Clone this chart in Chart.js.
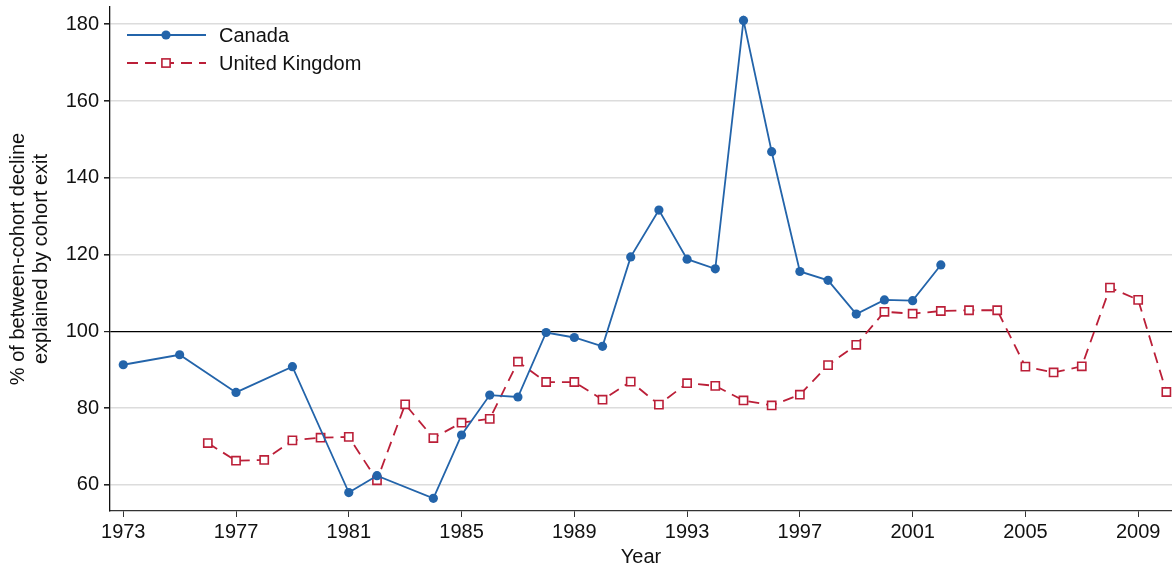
<!DOCTYPE html>
<html>
<head>
<meta charset="utf-8">
<script src="https://cdn.jsdelivr.net/npm/chart.js@4/dist/chart.umd.min.js"></script>
<style>
  html, body { margin: 0; padding: 0; background: #fff; }
  #wrap { width: 1172px; height: 567px; position: relative; }
</style>
</head>
<body>
<div id="wrap"><canvas id="chart"></canvas></div>
<script>
// Data
const canadaYears = [1973, 1975, 1977, 1979, 1981, 1982, 1984, 1985, 1986, 1987, 1988, 1989, 1990,
  1991, 1992, 1993, 1994, 1995, 1996, 1997, 1998, 1999, 2000, 2001, 2002];
const canadaValues = [91.3, 93.9, 84.1, 90.8, 58.0, 62.4, 56.5, 73.0, 83.4, 82.9, 99.7, 98.4, 96.1,
  119.4, 131.6, 118.8, 116.3, 181.0, 146.8, 115.6, 113.3, 104.5, 108.2, 108.0, 117.3];

const ukYears = [1976, 1977, 1978, 1979, 1980, 1981, 1982, 1983, 1984, 1985, 1986, 1987, 1988,
  1989, 1990, 1991, 1992, 1993, 1994, 1995, 1996, 1997, 1998, 1999, 2000, 2001, 2002, 2003,
  2004, 2005, 2006, 2007, 2008, 2009, 2010];
const ukValues = [70.9, 66.3, 66.5, 71.6, 72.3, 72.5, 61.2, 81.0, 72.2, 76.2, 77.2, 92.1, 86.8,
  86.8, 82.2, 86.9, 80.9, 86.5, 85.8, 82.0, 80.7, 83.5, 91.2, 96.5, 105.1, 104.6, 105.3, 105.5,
  105.5, 90.8, 89.3, 90.9, 111.4, 108.2, 84.2];

const xTicks = [1973, 1977, 1981, 1985, 1989, 1993, 1997, 2001, 2005, 2009];
const yTicks = [60, 80, 100, 120, 140, 160, 180];

const BLUE = '#2364aa';
const RED = '#bb1f38';
const FONT = 'Liberation Sans, Arial, sans-serif';

// no extra room for half-labels at the ends, the plot fills to the edges
function noScalePadding(scale) {
  scale.paddingTop = 0;
  scale.paddingBottom = 0;
  scale.paddingLeft = 0;
  scale.paddingRight = 0;
}

// Legend drawn inside the plot area, top-left, Stata style (line - marker - line)
const insideLegend = {
  id: 'insideLegend',
  afterDraw(chart) {
    const ctx = chart.ctx;
    const rows = [
      { ds: chart.data.datasets[0], y: 35 },
      { ds: chart.data.datasets[1], y: 63 }
    ];
    ctx.save();
    rows.forEach(({ ds, y }) => {
      ctx.strokeStyle = ds.borderColor;
      ctx.lineWidth = ds.borderWidth;
      ctx.setLineDash(ds.borderDash || []);
      ctx.beginPath();
      ctx.moveTo(127, y);
      ctx.lineTo(206, y);
      ctx.stroke();
      ctx.setLineDash([]);
      ctx.fillStyle = ds.pointBackgroundColor;
      ctx.strokeStyle = ds.pointBorderColor;
      ctx.lineWidth = ds.pointBorderWidth;
      if (ds.pointStyle === 'rect') {
        const s = ds.pointRadius * 1.414;
        ctx.fillRect(166 - s / 2, y - s / 2, s, s);
        ctx.strokeRect(166 - s / 2, y - s / 2, s, s);
      } else {
        ctx.beginPath();
        ctx.arc(166, y, ds.pointRadius, 0, Math.PI * 2);
        ctx.fill();
      }
      ctx.fillStyle = '#111';
      ctx.font = '20px ' + FONT;
      ctx.textBaseline = 'middle';
      ctx.textAlign = 'left';
      ctx.fillText(ds.label, 219, y + 1);
    });
    ctx.restore();
  }
};

new Chart(document.getElementById('chart'), {
  type: 'line',
  data: {
    datasets: [
      {
        label: 'Canada',
        data: canadaYears.map((yr, i) => ({ x: yr, y: canadaValues[i] })),
        borderColor: BLUE,
        borderWidth: 1.8,
        pointStyle: 'circle',
        pointRadius: 4.6,
        pointBackgroundColor: BLUE,
        pointBorderColor: BLUE,
        pointBorderWidth: 0,
        tension: 0,
        clip: false
      },
      {
        label: 'United Kingdom',
        data: ukYears.map((yr, i) => ({ x: yr, y: ukValues[i] })),
        borderColor: RED,
        borderWidth: 1.8,
        borderDash: [11, 7],
        pointStyle: 'rect',
        pointRadius: 5.8,
        pointBackgroundColor: '#fff',
        pointBorderColor: RED,
        pointBorderWidth: 1.6,
        tension: 0,
        clip: false
      }
    ]
  },
  options: {
    responsive: true,
    maintainAspectRatio: false,
    animation: false,
    layout: { autoPadding: false, padding: { top: 7, right: 0, bottom: 0, left: 0 } },
    plugins: {
      legend: { display: false },
      tooltip: { enabled: false }
    },
    scales: {
      x: {
        type: 'linear',
        min: 1972.53,
        max: 2010.2,
        afterBuildTicks: (scale) => { scale.ticks = xTicks.map(v => ({ value: v })); },
        afterFit: (scale) => { scale.height = 56; noScalePadding(scale); },
        ticks: {
          autoSkip: false,
          maxRotation: 0,
          padding: 3,
          color: '#111',
          font: { family: FONT, size: 20 },
          callback: (v) => String(v)
        },
        grid: { drawOnChartArea: false, drawTicks: true, tickLength: 6, tickColor: '#333', tickWidth: 1 },
        border: { display: true, color: '#333', width: 1.3 },
        title: {
          display: true,
          text: 'Year',
          color: '#111',
          font: { family: FONT, size: 20, lineHeight: 1.0 },
          padding: { top: 0, bottom: 0 }
        }
      },
      y: {
        type: 'linear',
        min: 53.2,
        max: 184.5,
        afterBuildTicks: (scale) => { scale.ticks = yTicks.map(v => ({ value: v })); },
        afterFit: (scale) => { scale.width = 110; noScalePadding(scale); },
        ticks: {
          padding: 5,
          color: '#111',
          font: { family: FONT, size: 20 },
          callback: (v) => String(v)
        },
        grid: {
          drawTicks: true,
          tickLength: 6,
          tickColor: '#222',
          color: (c) => (c.tick && c.tick.value === 100 ? '#000' : '#dcdcdc'),
          lineWidth: (c) => (c.tick && c.tick.value === 100 ? 1.2 : 1.6)
        },
        border: { display: true, color: '#111', width: 1.3 },
        title: {
          display: true,
          text: ['% of between-cohort decline', 'explained by cohort exit'],
          color: '#111',
          font: { family: FONT, size: 20, lineHeight: 1.15 },
          padding: { top: 7, bottom: 0 }
        }
      }
    }
  },
  plugins: [insideLegend]
});
</script>
</body>
</html>
